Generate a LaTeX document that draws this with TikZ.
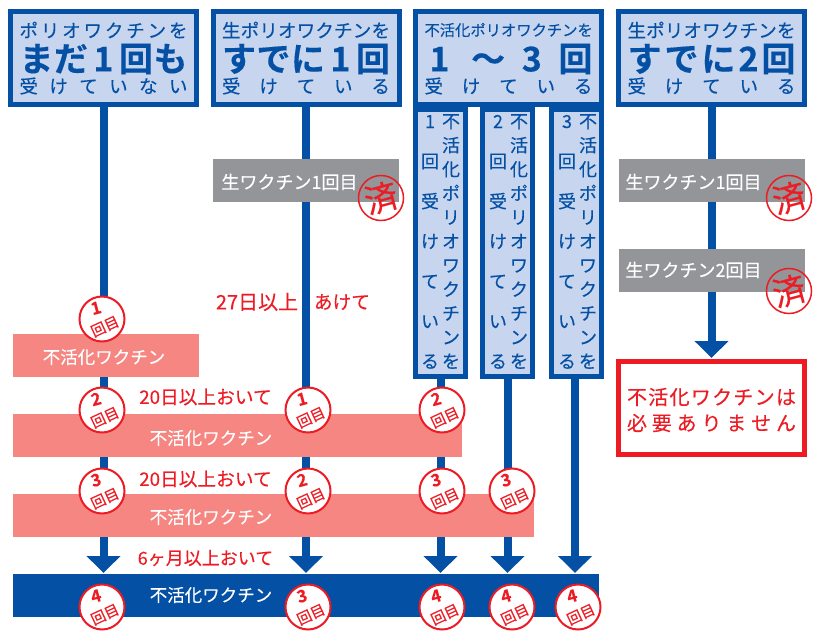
\documentclass[tikz,border=0pt]{standalone}
\usepackage{fontspec}
\setmainfont{Noto Sans CJK JP}[FakeBold=0.25, BoldFont={* Bold}]
\usetikzlibrary{arrows.meta,backgrounds}
\definecolor{vacblue}{HTML}{0450A4}
\definecolor{headfill}{HTML}{C8D5EF}
\definecolor{donegray}{HTML}{939598}
\definecolor{vacpink}{HTML}{F58682}
\definecolor{vacred}{HTML}{ED1C24}
\newcommand{\fsz}[1]{\fontsize{#1}{#1}\selectfont}
% spreads the characters of a line over a given width
\newcommand{\spreadline}[2]{\makebox[#1pt][s]{\spreadchars#2\relax}}
\def\spreadchars#1#2{#1\ifx\relax#2\else\hfill\expandafter\spreadchars\expandafter#2\fi}
% one character per line
\newcommand{\vertstack}[2]{\vbox{\baselineskip=#1pt\lineskiplimit=-30pt\stackchars#2\relax}}
\def\stackchars#1#2{\hbox to 22pt{\hss\vrule height 15pt depth 3pt width 0pt #1\hss}\ifx\relax#2\else\expandafter\stackchars\expandafter#2\fi}
\tikzset{
    headbox/.style={draw=vacblue, fill=headfill, line width=5pt, minimum width=186pt, minimum height=93pt},
    vertbox/.style={draw=vacblue, fill=headfill, line width=5pt, minimum width=50pt, minimum height=267pt},
    headsmall/.style={text=vacblue, font=\fsz{18.5}},
    headbig/.style={text=vacblue, font=\fsz{34}\bfseries},
    vertchar/.style={text=vacblue, font=\fsz{18}},
    grayband/.style={fill=donegray, minimum height=43pt},
    graytext/.style={text=white, font=\fsz{18}},
    vacband/.style={minimum height=43pt},
    vactext/.style={text=white, font=\fsz{17.5}},
    waitlabel/.style={text=vacred, font=\fsz{18.7}},
    flow/.style={draw=vacblue, line width=8pt, -{Triangle[width=33pt,length=17pt]}, shorten >=1pt},
    roundmark/.style={circle, draw=vacred, fill=white, line width=2pt, minimum size=45pt},
    donering/.style={circle, draw=vacred, line width=1.5pt, minimum size=45pt},
    donechar/.style={text=vacred, font=\fsz{33}, rotate=15},
    marknum/.style={text=vacred, font=\fsz{17}\bfseries, rotate=15},
    markword/.style={text=vacred, font=\fsz{14.5}, rotate=25},
    nodepad/.style={inner sep=0pt, outer sep=0pt}
}
\newcommand{\headnode}[5]{%
    \node[headbox] (#1) at (#2,58) {};
    \node[headsmall, nodepad] (#1top) at (#2,30) {#3};
    \node[headbig, nodepad] (#1mid) at (#2,59) {#4};
    \node[headsmall, nodepad] (#1bot) at (#2,86) {\spreadline{168}{#5}};
}
\newcommand{\vertnode}[4]{%
    \node[vertbox] (v#1) at (#2,243) {};
    \node[vertchar, nodepad] (v#1r) at (#3,242) {\vertstack{24}{不活化ポリオワクチンを}};
    \node[vertchar, nodepad] (v#1l) at (#4,242) {\vertstack{40}{#1回受けている}};
}
\newcommand{\doseround}[4]{%
    \node[roundmark] (#1) at (#2,#3) {};
    \node[marknum, nodepad] (#1n) at ([xshift=-6pt,yshift=11pt]#1.center) {#4};
    \node[markword, nodepad] (#1w) at ([xshift=3pt,yshift=-7.5pt]#1.center) {回目};
}
\newcommand{\donestamp}[3]{%
    \node[donering] (#1) at (#2,#3) {};
    \node[donechar, nodepad] (#1c) at (#1.center) {済};
}
\begin{document}
\begin{tikzpicture}[x=1pt, y=-1pt]
    \useasboundingbox (0,0) rectangle (813,631);
    % headers
    \headnode{hA}{103.5}{\spreadline{168}{ポリオワクチンを}}{\makebox[168pt][s]{ま\hfill だ\hfill\makebox[30pt]{1}\hfill 回\hfill も}}{受けていない}
    \headnode{hB}{306}{\spreadline{168}{生ポリオワクチンを}}{\makebox[168pt][s]{す\hfill で\hfill に\hfill\makebox[30pt]{1}\hfill 回}}{受けている}
    \headnode{hC}{508.5}{\fsz{15.3}\spreadline{168}{不活化ポリオワクチンを}}{\makebox[168pt][s]{\makebox[30pt]{1}\hfill 〜\hfill 3\hfill 回}}{受けている}
    \headnode{hD}{711.5}{\spreadline{168}{生ポリオワクチンを}}{\makebox[168pt][s]{す\hfill で\hfill に\hfill 2\hfill 回}}{受けている}
    % columns under the third header
    \vertnode{1}{440.5}{451}{430}
    \vertnode{2}{507.5}{519}{498}
    \vertnode{3}{576.5}{588}{567}
    % bands
    \node[vacband, fill=vacpink, minimum width=186pt, nodepad] (pinkA) at (106,355.5) {};
    \node[vacband, fill=vacpink, minimum width=449pt, nodepad] (pinkB) at (237.5,435.5) {};
    \node[vacband, fill=vacpink, minimum width=521pt, nodepad] (pinkC) at (273.5,515.5) {};
    \node[vacband, fill=vacblue, minimum width=586pt, nodepad] (blueband) at (306,595.5) {};
    \node[vactext, nodepad] (pinkAt) at (104,357) {不活化ワクチン};
    \node[vactext, nodepad] (pinkBt) at (211,438) {不活化ワクチン};
    \node[vactext, nodepad] (pinkCt) at (211,517) {不活化ワクチン};
    \node[vactext, nodepad] (bluet) at (211,595) {不活化ワクチン};
    % gray bands and their stamps
    \node[grayband, minimum width=186pt, nodepad] (grayB) at (306,180.5) {};
    \node[grayband, minimum width=186pt, nodepad] (grayD) at (712,180.5) {};
    \node[grayband, minimum width=186pt, nodepad] (grayE) at (712,270.5) {};
    \node[graytext, nodepad] (grayBt) at (289.5,182) {生ワクチン1回目};
    \node[graytext, nodepad] (grayDt) at (693.5,182) {生ワクチン1回目};
    \node[graytext, nodepad] (grayEt) at (693.5,270) {生ワクチン2回目};
    \donestamp{doneB}{381}{198}
    \donestamp{doneD}{789}{198}
    \donestamp{doneE}{789}{291}
    % result box
    \node[draw=vacred, fill=white, line width=5pt, minimum width=186pt, minimum height=93pt] (nomore) at (711.5,408) {};
    \node[text=vacred, font=\fsz{20}, nodepad] (nomoreA) at (711.5,397) {\spreadline{169}{不活化ワクチンは}};
    \node[text=vacred, font=\fsz{20}, nodepad] (nomoreB) at (711.5,423) {\spreadline{169}{必要ありません}};
    % flow lines go behind everything
    \coordinate (v3foot) at ([xshift=-1.5pt]v3.south);
    \begin{scope}[on background layer]
        \draw[flow] (hA.south) -- (blueband.north -| hA.south);
        \draw[flow] (hB.south) -- (blueband.north -| hB.south);
        \draw[flow] (v1.south) -- (blueband.north -| v1.south);
        \draw[flow] (v2.south) -- (blueband.north -| v2.south);
        \draw[flow] (v3foot) -- (blueband.north -| v3foot);
        \draw[flow] (hD.south) -- (nomore.north);
    \end{scope}
    % waiting times
    \node[waitlabel, font=\fsz{20}, nodepad] (waitA) at (257,302) {27日以上};
    \node[waitlabel, nodepad] (waitB) at (342,302) {あけて};
    \node[waitlabel, nodepad] (waitC) at (205.5,397) {20日以上おいて};
    \node[waitlabel, nodepad] (waitD) at (205.5,479) {20日以上おいて};
    \node[waitlabel, font=\fsz{18}, nodepad] (waitE) at (205.5,558) {6ヶ月以上おいて};
    % dose marks
    \doseround{sA}{102}{319}{1}
    \doseround{sB}{102}{410}{2}
    \doseround{sC}{102}{491}{3}
    \doseround{sD}{102}{607}{4}
    \doseround{sE}{308}{410}{1}
    \doseround{sF}{308}{491}{2}
    \doseround{sG}{308}{607}{3}
    \doseround{sH}{442}{410}{2}
    \doseround{sI}{442}{491}{3}
    \doseround{sJ}{442}{607}{4}
    \doseround{sK}{512}{491}{3}
    \doseround{sL}{512}{607}{4}
    \doseround{sM}{578}{607}{4}
\end{tikzpicture}
\end{document}
